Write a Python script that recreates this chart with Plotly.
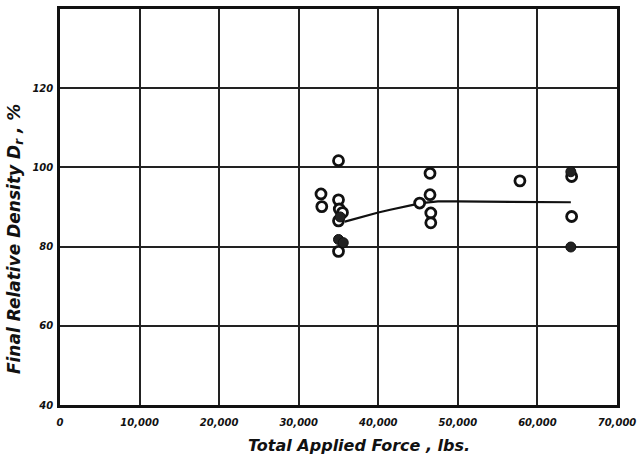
import plotly.graph_objects as go

# Data
open_x = [32800, 32900, 35000, 35000, 35100, 35500, 35000, 35000, 46500, 46500, 45200, 46600, 46600, 57800, 64300, 64300]
open_y = [93.3, 90.1, 101.7, 91.8, 89.5, 88.6, 86.5, 78.8, 98.5, 93.1, 91.0, 88.5, 86.0, 96.6, 87.6, 97.7]
filled_x = [35000, 35600, 64200, 64200, 35200]
filled_y = [81.8, 81.0, 98.9, 79.9, 87.5]
curve_x = [35800, 37000, 38500, 40000, 41500, 43000, 44500, 46000, 47500, 50000, 55000, 64200]
curve_y = [86.3, 87.0, 87.8, 88.6, 89.3, 90.0, 90.6, 91.1, 91.4, 91.4, 91.3, 91.2]

x_ticks = [0, 10000, 20000, 30000, 40000, 50000, 60000, 70000]
x_labels = ["0", "10,000", "20,000", "30,000", "40,000", "50,000", "60,000", "70,000"]
y_ticks = [40, 60, 80, 100, 120]
y_labels = ["40", "60", "80", "100", "120"]

fig = go.Figure()
fig.add_trace(go.Scatter(x=curve_x, y=curve_y, mode="lines",
                         line=dict(color="#111", width=2.2),
                         hoverinfo="skip", showlegend=False))
fig.add_trace(go.Scatter(x=open_x, y=open_y, mode="markers",
                         marker=dict(symbol="circle", size=10, color="white",
                                     line=dict(color="#111", width=2.8)),
                         showlegend=False))
fig.add_trace(go.Scatter(x=filled_x, y=filled_y, mode="markers",
                         marker=dict(symbol="circle", size=10, color="#222",
                                     line=dict(color="#111", width=1)),
                         showlegend=False))

tickfont = dict(family="DejaVu Sans", size=10, color="#111", weight="bold", style="italic")
fig.update_layout(
    width=640, height=464,
    margin=dict(l=60, r=23, t=9, b=59),
    paper_bgcolor="white", plot_bgcolor="white",
    font=dict(family="DejaVu Sans", color="#111"),
    xaxis=dict(range=[0, 70000], tickvals=x_ticks, ticktext=x_labels,
               showgrid=True, gridcolor="#222", gridwidth=1.8,
               showline=True, linecolor="#111", linewidth=2.5, mirror=True,
               zeroline=False, ticks="", tickfont=tickfont, tickangle=0,
               ticklabelstandoff=6, automargin=False),
    yaxis=dict(range=[40, 140], tickvals=y_ticks, ticktext=y_labels,
               showgrid=True, gridcolor="#222", gridwidth=1.8,
               showline=True, linecolor="#111", linewidth=2.5, mirror=True,
               zeroline=False, ticks="", tickfont=tickfont,
               ticklabelstandoff=2, automargin=False),
    annotations=[
        dict(text="Total Applied Force , lbs.", xref="paper", yref="paper",
             x=0.537, y=-0.072, xanchor="center", yanchor="top", showarrow=False,
             font=dict(size=16, family="DejaVu Sans", color="#111", style="italic", weight="bold")),
        dict(text="Final Relative Density D<sub>r</sub> , %", xref="paper", yref="paper",
             x=-0.08, y=0.42, xanchor="center", yanchor="middle", showarrow=False, textangle=-90,
             font=dict(size=17, family="DejaVu Sans", color="#111", style="italic", weight="bold")),
    ],
)

fig.write_html("out.html", config={"displayModeBar": False},
               post_script="document.body.style.margin='0';")
